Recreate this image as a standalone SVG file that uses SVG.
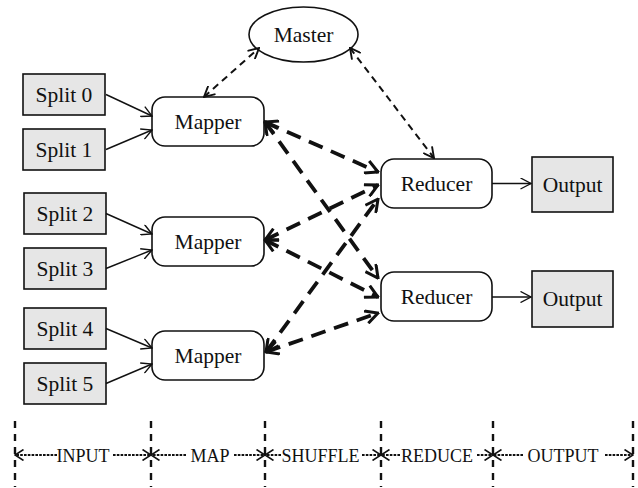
<svg xmlns="http://www.w3.org/2000/svg" width="638" height="488" viewBox="0 0 638 488">
<style>
.split{fill:#e6e6e6;stroke:#111;stroke-width:1.6}
.node{fill:#fff;stroke:#111;stroke-width:1.6}
.lbl{font-family:"Liberation Serif","Times New Roman",serif;font-size:21.5px;fill:#111;text-anchor:middle}
.tl{font-family:"Liberation Serif","Times New Roman",serif;font-size:18px;fill:#111;text-anchor:middle}
.thin{stroke:#111;stroke-width:1.4;fill:none;marker-end:url(#aThin)}
.ctl{stroke:#111;stroke-width:2;fill:none;stroke-dasharray:7 5;marker-start:url(#aMid);marker-end:url(#aMid)}
.shf{stroke:#111;stroke-width:3.8;fill:none;stroke-dasharray:15 9;marker-start:url(#aThick);marker-end:url(#aThick)}
.vd{stroke:#111;stroke-width:2.4;fill:none;stroke-dasharray:7 6}
.hd{stroke:#111;stroke-width:2;fill:none;stroke-dasharray:2.6 1.2;marker-end:url(#aTl)}
</style>
<defs>
<marker id="aThin" markerUnits="userSpaceOnUse" viewBox="0 0 12 12" refX="11" refY="6" markerWidth="12" markerHeight="12" orient="auto">
<path d="M0.5,0.5 L11,6 L0.5,11.5" fill="none" stroke="#111" stroke-width="1.4" stroke-dasharray="none"/>
</marker>
<marker id="aMid" markerUnits="userSpaceOnUse" viewBox="0 0 12 12" refX="11" refY="6" markerWidth="12" markerHeight="12" orient="auto-start-reverse">
<path d="M0.5,0.5 L11,6 L0.5,11.5" fill="none" stroke="#111" stroke-width="1.9" stroke-dasharray="none"/>
</marker>
<marker id="aThick" markerUnits="userSpaceOnUse" viewBox="0 0 15 15" refX="13.5" refY="7.5" markerWidth="15" markerHeight="15" orient="auto-start-reverse">
<path d="M1,1 L13.5,7.5 L1,14" fill="none" stroke="#111" stroke-width="3" stroke-dasharray="none"/>
</marker>
<marker id="aTl" markerUnits="userSpaceOnUse" viewBox="0 0 10 12" refX="9" refY="6" markerWidth="10" markerHeight="12" orient="auto">
<path d="M0.5,0.5 L9,6 L0.5,11.5" fill="none" stroke="#111" stroke-width="1.6" stroke-dasharray="none"/>
</marker>
</defs>

<g id="master"><ellipse class="node" cx="303.5" cy="34.5" rx="54.5" ry="27.5"/><text class="lbl" x="303.5" y="42">Master</text></g>

<g id="split0"><rect class="split" x="23" y="74" width="82" height="41"/><text class="lbl" x="64" y="102">Split 0</text></g>
<g id="split1"><rect class="split" x="23" y="129" width="82" height="41"/><text class="lbl" x="64" y="157">Split 1</text></g>
<g id="split2"><rect class="split" x="24" y="193" width="82" height="41"/><text class="lbl" x="65" y="221">Split 2</text></g>
<g id="split3"><rect class="split" x="24" y="248" width="82" height="41"/><text class="lbl" x="65" y="276">Split 3</text></g>
<g id="split4"><rect class="split" x="24" y="308" width="82" height="41"/><text class="lbl" x="65" y="336">Split 4</text></g>
<g id="split5"><rect class="split" x="24" y="363" width="82" height="41"/><text class="lbl" x="65" y="391">Split 5</text></g>

<g id="mapper1"><rect class="node" x="152" y="97" width="112" height="49" rx="13"/><text class="lbl" x="208" y="129">Mapper</text></g>
<g id="mapper2"><rect class="node" x="152" y="217" width="112" height="49" rx="13"/><text class="lbl" x="208" y="249">Mapper</text></g>
<g id="mapper3"><rect class="node" x="152" y="331" width="112" height="49" rx="13"/><text class="lbl" x="208" y="363">Mapper</text></g>

<g id="reducer1"><rect class="node" x="381" y="159" width="111" height="49" rx="13"/><text class="lbl" x="436.5" y="191">Reducer</text></g>
<g id="reducer2"><rect class="node" x="381" y="272" width="111" height="49" rx="13"/><text class="lbl" x="436.5" y="304">Reducer</text></g>

<g id="output1"><rect class="split" x="532" y="157" width="81" height="55"/><text class="lbl" x="572.5" y="192">Output</text></g>
<g id="output2"><rect class="split" x="532" y="271" width="81" height="56"/><text class="lbl" x="572.5" y="306">Output</text></g>

<g id="connectors">
<line class="thin" x1="106" y1="94.5" x2="152" y2="116"/>
<line class="thin" x1="106" y1="149.5" x2="152" y2="130"/>
<line class="thin" x1="106" y1="213.5" x2="152" y2="234"/>
<line class="thin" x1="106" y1="268.5" x2="152" y2="250"/>
<line class="thin" x1="106" y1="328.5" x2="152" y2="348"/>
<line class="thin" x1="106" y1="383.5" x2="152" y2="364"/>
<line class="thin" x1="492" y1="183.5" x2="531" y2="183.5"/>
<line class="thin" x1="492" y1="297" x2="531" y2="297"/>
<line class="ctl" x1="204" y1="97" x2="259" y2="48"/>
<line class="ctl" x1="350" y1="48" x2="434" y2="158"/>
<line class="shf" x1="265" y1="122" x2="378" y2="172"/>
<line class="shf" x1="265" y1="122" x2="378" y2="278"/>
<line class="shf" x1="265" y1="240" x2="378" y2="185"/>
<line class="shf" x1="265" y1="240" x2="378" y2="297"/>
<line class="shf" x1="266" y1="352" x2="378" y2="199"/>
<line class="shf" x1="266" y1="352" x2="378" y2="313"/>
</g>

<g id="timeline">
<line class="vd" x1="15" y1="421" x2="15" y2="487"/>
<line class="vd" x1="151" y1="421" x2="151" y2="487"/>
<line class="vd" x1="265" y1="421" x2="265" y2="487"/>
<line class="vd" x1="381" y1="421" x2="381" y2="487"/>
<line class="vd" x1="493" y1="421" x2="493" y2="487"/>
<line class="vd" x1="633" y1="421" x2="633" y2="487"/>
<line class="hd" x1="57" y1="455" x2="15" y2="455"/>
<line class="hd" x1="113" y1="455" x2="151" y2="455"/>
<line class="hd" x1="186" y1="455" x2="151" y2="455"/>
<line class="hd" x1="234" y1="455" x2="265" y2="455"/>
<line class="hd" x1="281" y1="455" x2="265" y2="455"/>
<line class="hd" x1="362" y1="455" x2="381" y2="455"/>
<line class="hd" x1="400" y1="455" x2="381" y2="455"/>
<line class="hd" x1="477" y1="455" x2="493" y2="455"/>
<line class="hd" x1="523" y1="455" x2="493" y2="455"/>
<line class="hd" x1="605" y1="455" x2="633" y2="455"/>
<text class="tl" x="83" y="462">INPUT</text>
<text class="tl" x="210" y="462">MAP</text>
<text class="tl" x="320.5" y="462">SHUFFLE</text>
<text class="tl" x="437" y="462">REDUCE</text>
<text class="tl" x="563" y="462">OUTPUT</text>
</g>
</svg>
